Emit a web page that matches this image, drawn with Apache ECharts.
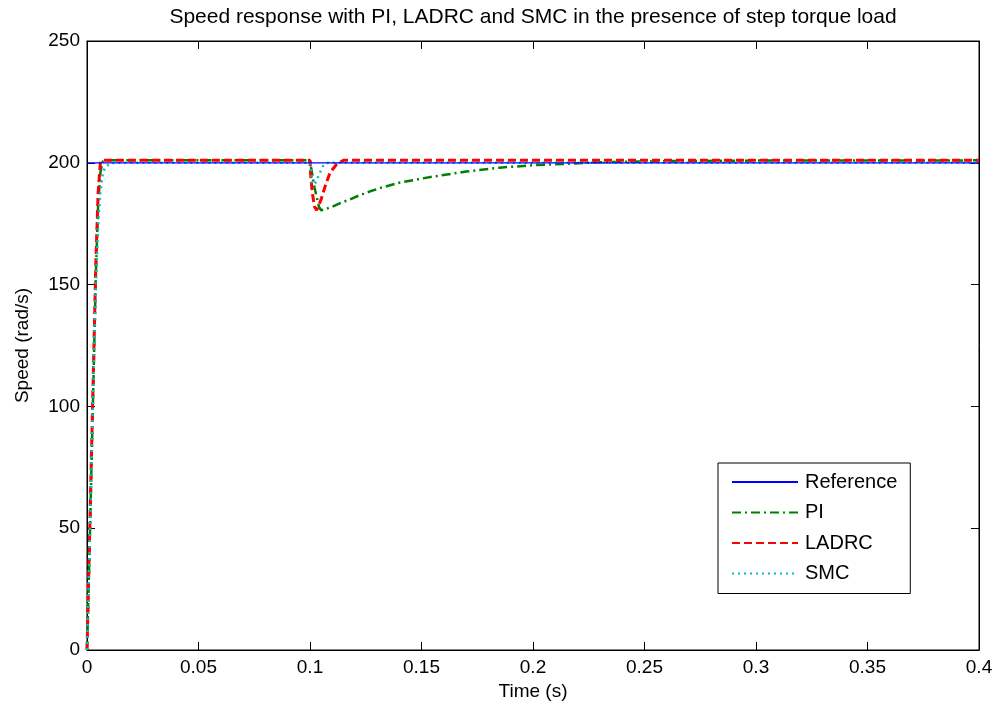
<!DOCTYPE html>
<html>
<head>
<meta charset="utf-8">
<script src="https://cdn.jsdelivr.net/npm/echarts@6/dist/echarts.min.js"></script>
<style>html,body{margin:0;padding:0;background:#fff}#c{width:997px;height:711px}</style>
</head>
<body>
<div id="c"></div>
<script>
const xTicks = [0, 0.05, 0.1, 0.15, 0.2, 0.25, 0.3, 0.35, 0.4];
const yTicks = [0, 50, 100, 150, 200, 250];
const seriesNames = ["Reference", "PI", "LADRC", "SMC"];

const refT = [0, 0.4];
const refV = [200, 200];

const piT = [0, 0.001, 0.002, 0.003, 0.004, 0.005, 0.006, 0.007, 0.008, 0.01, 0.1, 0.1005, 0.102, 0.104, 0.105, 0.107, 0.11, 0.114, 0.118, 0.122, 0.127, 0.132, 0.14, 0.15, 0.155, 0.17, 0.185, 0.2, 0.23, 0.26, 0.3, 0.4];
const piV = [0, 35, 75, 115, 155, 183, 196, 200.5, 201, 201, 201, 198, 190, 182, 180.5, 181, 182, 183.6, 185, 186.6, 188.3, 189.8, 191.8, 193.5, 194.3, 196.4, 198, 199, 200.2, 200.7, 200.9, 201];

const ladrcT = [0, 0.001, 0.002, 0.003, 0.004, 0.005, 0.006, 0.007, 0.1, 0.1003, 0.101, 0.102, 0.103, 0.105, 0.107, 0.109, 0.112, 0.115, 0.4];
const ladrcV = [0, 40, 80, 120, 160, 188, 200, 201, 201, 195, 188, 182, 180.5, 185, 191, 196, 199.5, 201, 201];

const smcT = [0, 0.001, 0.002, 0.003, 0.004, 0.005, 0.006, 0.007, 0.008, 0.01, 0.012, 0.1, 0.1005, 0.101, 0.102, 0.104, 0.106, 0.108, 0.4];
const smcV = [0, 35, 75, 115, 150, 175, 188, 195, 198, 199.5, 200, 200, 196, 192, 191, 195, 199, 200, 200];

function pairs(t, v) { return t.map((x, i) => [x, v[i]]); }

const font = "Liberation Sans, Arial, sans-serif";
const chart = echarts.init(document.getElementById('c'));
const axisCommon = {
  axisLine: { show: true, onZero: false, lineStyle: { color: '#000', width: 1 } },
  axisTick: { show: true, inside: true, length: 8, lineStyle: { color: '#000' } },
  splitLine: { show: false }
};
chart.setOption({
  animation: false,
  backgroundColor: '#fff',
  title: {
    text: 'Speed response with PI, LADRC and SMC in the presence of step torque load',
    left: 528, top: 2, textAlign: 'center',
    textStyle: { fontFamily: font, fontSize: 21, fontWeight: 'normal', color: '#000' }
  },
  grid: { left: 87, right: 18, top: 41, bottom: 61, show: true, borderColor: '#000', borderWidth: 1, containLabel: false },
  legend: {
    orient: 'vertical', left: 718, top: 463,
    data: seriesNames,
    itemWidth: 66, itemHeight: 14, itemGap: 10.5,
    padding: [9, 13, 10, 13],
    borderColor: '#000', borderWidth: 1, backgroundColor: '#fff',
    itemStyle: { opacity: 0 },
    textStyle: { fontFamily: font, fontSize: 20, lineHeight: 20, color: '#000', padding: [0, 0, 0, 2] }
  },
  xAxis: [
    Object.assign({}, axisCommon, {
      type: 'value', min: 0, max: 0.4, interval: 0.05,
      name: 'Time (s)', nameLocation: 'middle', nameGap: 30,
      nameTextStyle: { fontFamily: font, fontSize: 19, color: '#000' },
      axisLabel: { fontFamily: font, fontSize: 19, color: '#000', margin: 8,
        formatter: v => String(xTicks.find(x => Math.abs(x - v) < 1e-9) ?? v) }
    }),
    Object.assign({}, axisCommon, {
      type: 'value', min: 0, max: 0.4, interval: 0.05, position: 'top',
      axisLabel: { show: false }
    })
  ],
  yAxis: [
    Object.assign({}, axisCommon, {
      type: 'value', min: 0, max: 250, interval: 50,
      name: 'Speed (rad/s)', nameLocation: 'middle', nameGap: 55,
      nameTextStyle: { fontFamily: font, fontSize: 19, color: '#000' },
      axisLabel: { fontFamily: font, fontSize: 19, color: '#000', margin: 7,
        formatter: v => String(yTicks.find(y => Math.abs(y - v) < 1e-9) ?? v) }
    }),
    Object.assign({}, axisCommon, {
      type: 'value', min: 0, max: 250, interval: 50, position: 'right',
      axisLabel: { show: false }
    })
  ],
  series: [
    { name: 'Reference', type: 'line', symbol: 'none', data: pairs(refT, refV),
      color: '#0000ff', lineStyle: { color: '#0000ff', width: 1.2 }, z: 5 },
    { name: 'PI', type: 'line', symbol: 'none', data: pairs(piT, piV),
      color: '#007f00', lineStyle: { color: '#007f00', width: 2.5, type: [9, 4, 2, 4] }, z: 2 },
    { name: 'LADRC', type: 'line', symbol: 'none', data: pairs(ladrcT, ladrcV),
      color: '#ff0000', lineStyle: { color: '#ff0000', width: 3, type: [8, 4] }, z: 3 },
    { name: 'SMC', type: 'line', symbol: 'none', data: pairs(smcT, smcV),
      color: '#00bfbf', lineStyle: { color: '#00bfbf', width: 2.5, type: [2, 4] }, z: 4 }
  ]
});
</script>
</body>
</html>
